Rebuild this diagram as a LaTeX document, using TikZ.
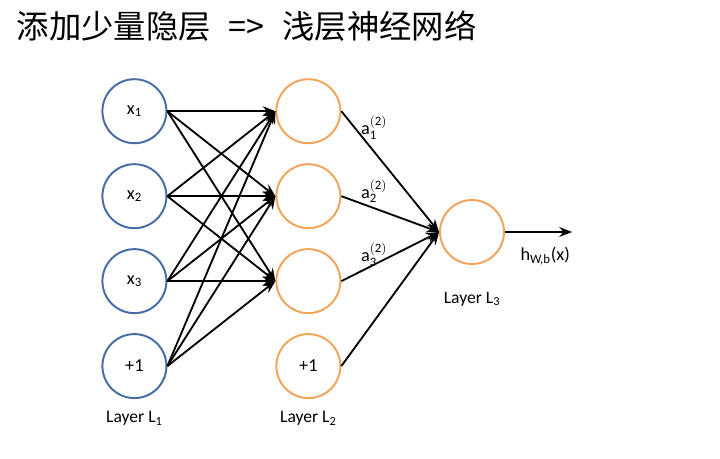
\documentclass[tikz,border=0pt]{standalone}
\usepackage{fontspec}
\setmainfont{Carlito}
\setsansfont{Carlito}
\newfontfamily\cjk{Noto Sans CJK SC}
\usepackage{xcolor}
\usetikzlibrary{arrows.meta, positioning, calc}
\definecolor{inputblue}{RGB}{72, 108, 165}
\definecolor{hiddenorange}{RGB}{240, 165, 90}
\tikzstyle{inputunit} = [circle, minimum size=1.6cm, inner sep=0pt, draw=inputblue, line width=1.4pt, font=\fontsize{13}{15}\selectfont\sffamily]
\tikzstyle{hiddenunit} = [circle, minimum size=1.6cm, inner sep=0pt, draw=hiddenorange, line width=1.4pt, font=\fontsize{13}{15}\selectfont\sffamily]
\tikzstyle{layername} = [font=\fontsize{12.5}{15}\selectfont\sffamily]
\tikzstyle{actlabel} = [pos=0.25, above, inner sep=1pt, xshift=6pt, font=\fontsize{13}{15}\selectfont\sffamily]
\tikzstyle{arrow} = [line width=1.3pt,->,>={Stealth[length=9pt,width=7pt]}]

\begin{document}
\begin{tikzpicture}[node distance=0.475cm]
      \useasboundingbox (0,0) rectangle (18,-11.45);
      \node[anchor=west, font=\fontsize{23}{26}\selectfont\cjk] (title) at (0.3,-0.65) {添加少量隐层\hspace{0.55em}=>\hspace{0.55em}浅层神经网络};

      % input layer
      \node[inputunit] (x1) at (3.36,-2.78) {$\mathsf{x}_{\mathsf{1}}$};
      \node[inputunit, below=of x1] (x2) {$\mathsf{x}_{\mathsf{2}}$};
      \node[inputunit, below=of x2] (x3) {$\mathsf{x}_{\mathsf{3}}$};
      \node[inputunit, below=of x3] (b1) {+1};
      % hidden layer
      \node[hiddenunit, right=2.7cm of x1] (h1) {};
      \node[hiddenunit, below=of h1] (h2) {};
      \node[hiddenunit, below=of h2] (h3) {};
      \node[hiddenunit, below=of h3] (b2) {+1};
      % output layer
      \node[hiddenunit] (out) at (11.8,-5.8) {};
      \coordinate (hx) at (14.3,-5.8);

      \node[layername, below=0.18cm of b1] (L1) {Layer L\textsubscript{1}};
      \node[layername, below=0.18cm of b2] (L2) {Layer L\textsubscript{2}};
      \node[layername, below=0.55cm of out] (L3) {Layer L\textsubscript{3}};

      \foreach \i in {x1,x2,x3,b1}
        \foreach \j in {h1,h2,h3}
          \draw[arrow] (\i.east) -- (\j.west);

      \draw[arrow] (h1.east) -- node[actlabel] {$\mathsf{a}^{\mathsf{(2)}}_{\mathsf{1}}$} (out.west);
      \draw[arrow] (h2.east) -- node[actlabel] {$\mathsf{a}^{\mathsf{(2)}}_{\mathsf{2}}$} (out.west);
      \draw[arrow] (h3.east) -- node[actlabel] {$\mathsf{a}^{\mathsf{(2)}}_{\mathsf{3}}$} (out.west);
      \draw[arrow] (b2.east) -- (out.west);
      \draw[arrow] (out.east) -- node[below, pos=0.6, yshift=-7pt, font=\fontsize{13}{15}\selectfont\sffamily] {h\textsubscript{W,b}(x)} (hx);
    \end{tikzpicture}
\end{document}
